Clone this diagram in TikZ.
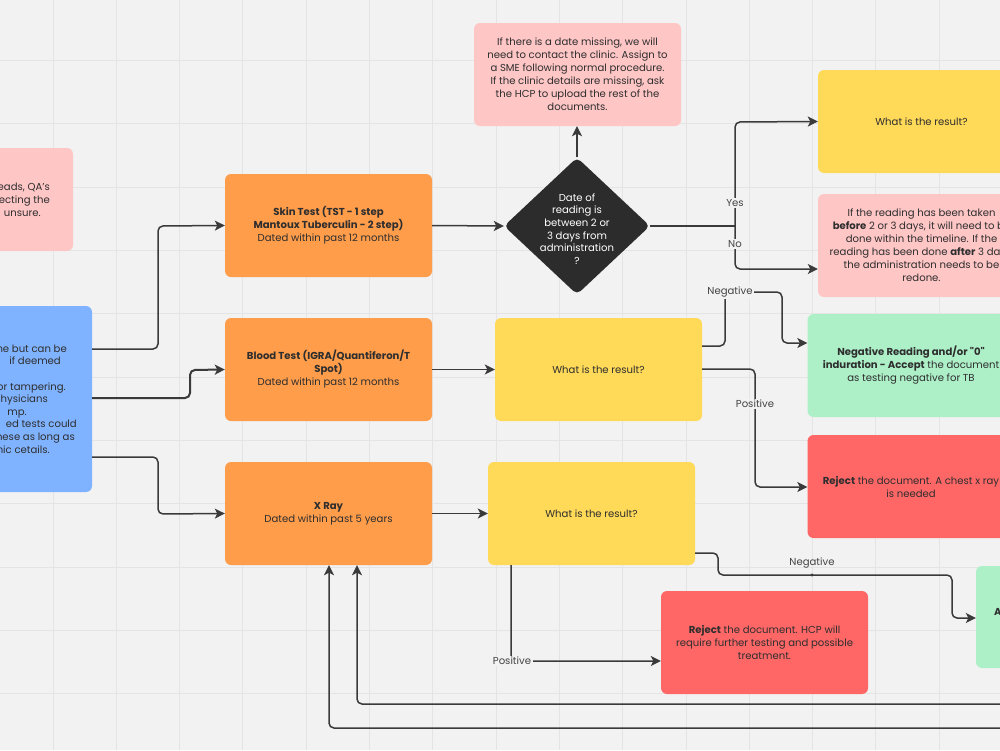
\documentclass[tikz,border=0pt]{standalone}
\usepackage{fontspec}
\setmainfont{Poppins}
\newfontfamily\plainpop{Poppins}
\usetikzlibrary{arrows.meta,shapes.geometric}
\definecolor{bg}{HTML}{F2F2F2}
\definecolor{gridc}{HTML}{E4E4E4}
\definecolor{orng}{HTML}{FF9D4B}
\definecolor{yell}{HTML}{FFD958}
\definecolor{pnk}{HTML}{FFC6C6}
\definecolor{grn}{HTML}{ADF0C8}
\definecolor{rd}{HTML}{FF6767}
\definecolor{blu}{HTML}{80B3FF}
\definecolor{dark}{HTML}{2C2C2C}
\definecolor{txt}{HTML}{2E2E2E}
\definecolor{linec}{HTML}{3A3A3A}
\definecolor{lbltxt}{HTML}{444444}
\newcommand{\myfs}{\fontsize{10.1}{13}\selectfont}
\newcommand{\pad}[1]{\makebox[#1]{}}
\begin{document}
\begin{tikzpicture}[x=1pt,y=-1pt,
  box/.style={rounded corners=6pt, minimum width=207pt, minimum height=103pt, inner sep=0pt, align=center, text=txt, font=\myfs},
  txtnode/.style={inner sep=0pt, text=txt, font=\myfs},
  conn/.style={draw=linec, line width=1.5pt, rounded corners=5pt, -{Stealth[length=10pt,width=10pt,inset=2.5pt]}},
  plainline/.style={draw=linec, line width=1.5pt, rounded corners=5pt},
  lbl/.style={fill=bg, inner sep=1.5pt, text=lbltxt, font=\myfs},
  gridline/.style={draw=gridc, line width=1pt}]
\useasboundingbox (0,0) rectangle (1000,750);
\clip (0,0) rectangle (1000,750);
\fill[bg] (0,0) rectangle (1000,750);
\foreach \i in {0,...,16} {\draw[gridline] ({-10.3+63.3*\i},0) -- ++(0,750);}
\foreach \i in {0,...,11} {\draw[gridline] (0,{-2.7+63.3*\i}) -- ++(1000,0);}

% left partial boxes
\node[box, fill=pnk] (pinkL) at (-30.5,199.5) {};
\node[txtnode, align=right, anchor=east] (pinkLtext) at (50,200) {eads, QA's\\ecting the\\unsure.\pad{9pt}};
\node[box, fill=blu, minimum height=186pt] (blueL) at (-11.5,399) {};
\node[txtnode, align=right, anchor=east, font=\fontsize{10.1}{12.6}\selectfont] (blueLtext) at (77,399) {ne but can be\pad{10pt}\\if deemed\pad{16pt}\\ \\or tampering.\pad{11pt}\\hysicians\pad{29pt}\\mp.\pad{50pt}\\ed tests could\\hese as long as\pad{2pt}\\nic cetails.\pad{27pt}};

% test boxes
\node[box, fill=orng] (skin) at (328.5,225.5) {\textbf{Skin Test (TST - 1 step}\\\textbf{Mantoux Tuberculin - 2 step)}\\Dated within past 12 months};
\node[box, fill=orng] (blood) at (328.5,369.5) {\textbf{Blood Test (IGRA/Quantiferon/T}\\\textbf{Spot)}\\Dated within past 12 months};
\node[box, fill=orng] (xray) at (328.5,513.5) {\textbf{X Ray}\\Dated within past 5 years};

% diamond and top note
\node[diamond, fill=dark, minimum width=146pt, minimum height=137pt, inner sep=0pt, rounded corners=5pt] (dia) at (577,226) {};
\node[txtnode, text=white, align=center, font=\fontsize{10.1}{12.7}\selectfont] (diatext) at (577,229) {Date of\\reading is\\between 2 or\\3 days from\\administration\\?};
\node[box, fill=pnk] (pinkT) at (577.5,74.5) {If there is a date missing, we will\\need to contact the clinic. Assign to\\a SME following normal procedure.\\If the clinic details are missing, ask\\the HCP to upload the rest of the\\documents.};

% results
\node[box, fill=yell] (yres) at (598.5,369.5) {What is the result?};
\node[box, fill=yell] (xres) at (591.5,513.5) {What is the result?};
\node[box, fill=yell] (ytop) at (921.5,121.5) {What is the result?};
\node[box, fill=pnk] (pinkR) at (921.5,245.5) {If the reading has been taken\\\textbf{before} 2 or 3 days, it will need to be\\done within the timeline. If the\\reading has been done \textbf{after} 3 days,\\the administration needs to be\\redone.};
\node[box, fill=grn] (green) at (911,365.5) {\textbf{Negative Reading and/or {\plainpop"0"}}\\\textbf{induration - Accept} the document\\as testing negative for TB};
\node[box, fill=rd] (redR) at (911,486.5) {\textbf{Reject} the document. A chest x ray\\is needed};
\node[box, fill=rd] (redB) at (764.5,642.5) {\textbf{Reject} the document. HCP will\\require further testing and possible\\treatment.};
\node[box, fill=grn, minimum height=102pt] (greenB) at (1079.5,617) {};
\node[txtnode, anchor=west] (greenBtext) at (994,612) {\textbf{A}};

% connectors from left
\draw[conn] (blueL.east |- 0,349) -- (158,349) -- (158,226) -- (skin.west);
\draw[conn, line width=2pt] (blueL.east |- 0,398) -- (190,398) -- (190,370) -- (blood.west);
\draw[conn] (blueL.east |- 0,457) -- (158,457) -- (158,514) -- (xray.west);

\draw[conn] (skin.east) -- (dia.west);
\draw[conn] (dia.north) -- (pinkT.south -| dia.north);
\draw[conn] (blood.east) -- (yres.west);
\draw[conn] (xray.east) -- (xres.west);

% yes / no
\draw[plainline] (dia.east) -- (735,226);
\draw[conn] (735,226) -- (735,122) -- (ytop.west);
\draw[conn] (735,226) -- (735,269) -- (pinkR.west |- 0,269);
\node[lbl] (lyes) at (735,203) {Yes};
\node[lbl] (lno) at (735,244) {No};

% blood results
\draw[conn] (yres.east |- 0,346) -- (725,346) -- (725,292) -- (782,292) -- (782,343) -- (green.west |- 0,343);
\node[lbl] (lneg1) at (730,292) {Negative};
\draw[conn] (yres.east |- 0,369) -- (755,369) -- (755,487) -- (redR.west |- 0,487);
\node[lbl] (lpos1) at (755,404) {Positive};

% x-ray results
\draw[conn] (xres.east |- 0,553) -- (718,553) -- (718,575) -- (952,575) -- (952,618) -- (greenB.west |- 0,618);
\node[lbl, fill=none] (lneg2) at (812,563) {Negative};
\fill[linec] (812,575) circle (1.6pt);
\draw[conn] (xres.south -| 511,0) -- (511,661) -- (redB.west |- 0,661);
\node[lbl] (lpos2) at (512,661) {Positive};

% return lines
\coordinate (ret1) at (1010,704);
\coordinate (ret2) at (1010,728);
\draw[conn] (ret1) -- (357,704) -- (xray.south -| 357,0);
\draw[conn] (ret2) -- (329,728) -- (xray.south -| 329,0);
\end{tikzpicture}
\end{document}
